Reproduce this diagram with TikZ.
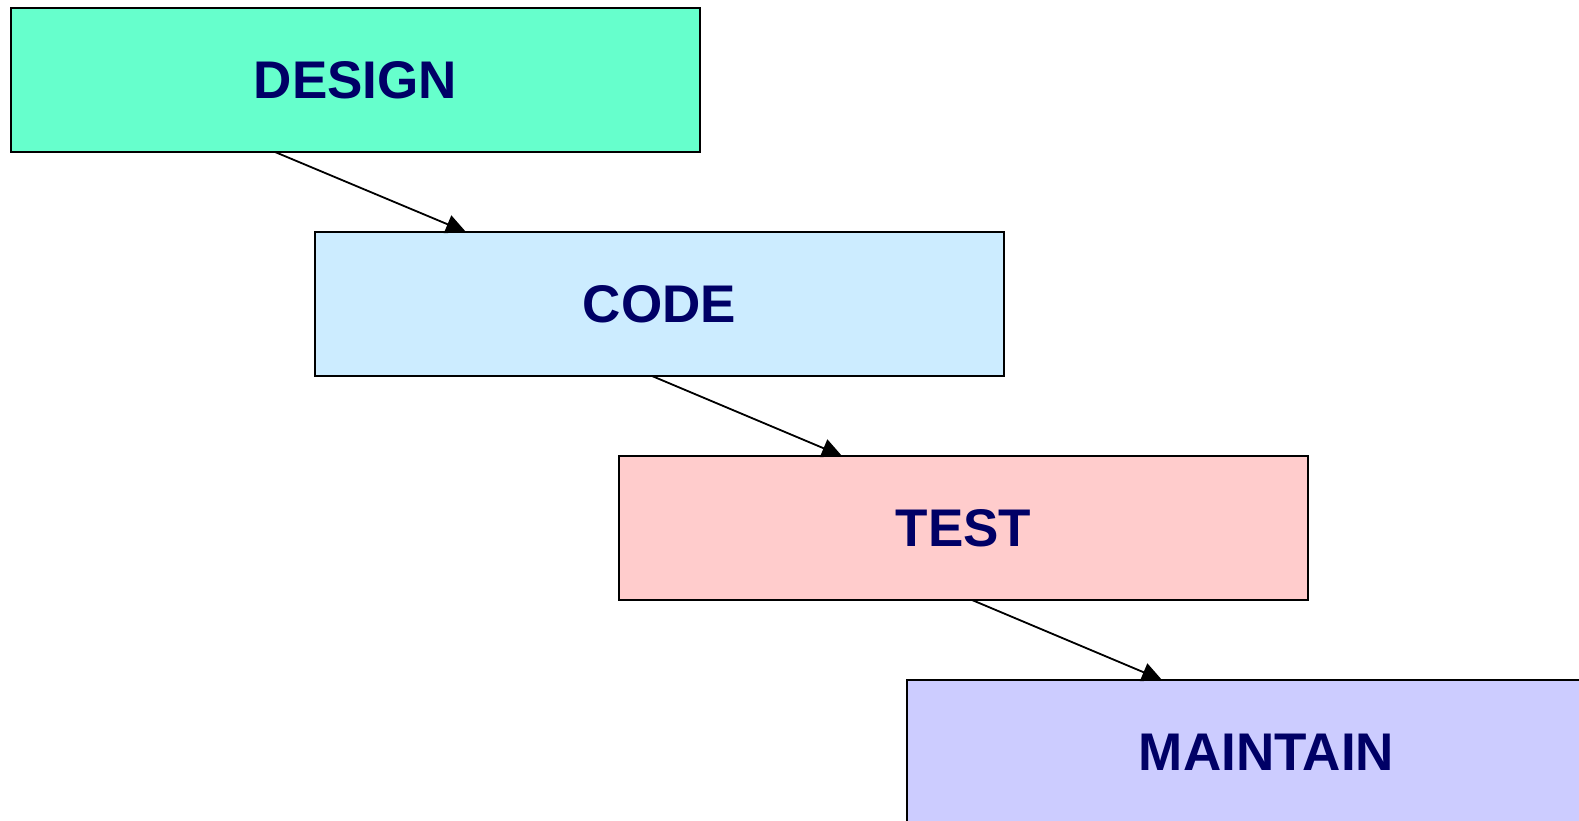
\documentclass[tikz,border=0pt]{standalone}
\usepackage{fontspec}
\setmainfont{Liberation Sans}
\usepackage{xcolor}
\usetikzlibrary{arrows.meta, positioning}

\definecolor{designgreen}{HTML}{66FFCC}
\definecolor{codeblue}{HTML}{CCECFF}
\definecolor{testpink}{HTML}{FFCCCC}
\definecolor{maintainlilac}{HTML}{CCCCFF}
\definecolor{labelnavy}{HTML}{000066}

\tikzset{
    phase/.style={draw=black, line width=1.5pt, minimum width=689pt, minimum height=144pt,
        inner sep=0pt, outer sep=0pt, text=labelnavy, font=\fontsize{53}{60}\selectfont\bfseries},
    flow/.style={-{Triangle[length=20pt, width=19pt]}, line width=1.8pt},
}

\begin{document}
\begin{tikzpicture}
    \useasboundingbox (0,0) rectangle (1579pt,-821pt);
    \node[phase, fill=designgreen] (design) at (355.5pt,-80pt) {DESIGN};
    \node[phase, fill=codeblue] (code) [below right=80pt and -385pt of design] {CODE};
    \node[phase, fill=testpink] (test) [below right=80pt and -385pt of code] {TEST};
    \node[phase, fill=maintainlilac, minimum width=719pt] (maintain) [below right=80pt and -401pt of test] {MAINTAIN};
    \draw[flow] ([xshift=264pt]design.south west) -- ([xshift=151pt]code.north west);
    \draw[flow] ([xshift=337pt]code.south west) -- ([xshift=223pt]test.north west);
    \draw[flow] ([xshift=353pt]test.south west) -- ([xshift=255pt]maintain.north west);
\end{tikzpicture}
\end{document}
